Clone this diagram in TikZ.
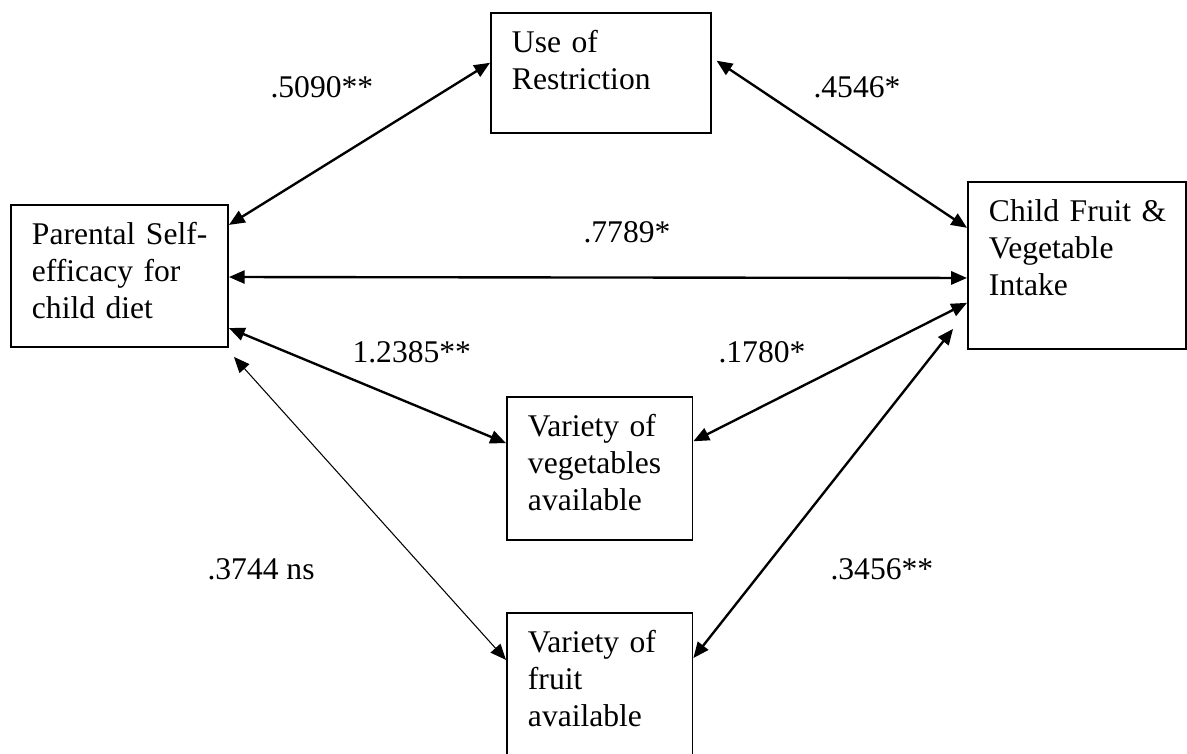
\documentclass[tikz,border=0pt]{standalone}
\usepackage{fontspec}
\setmainfont{Liberation Serif}
\usetikzlibrary{arrows.meta}
\tikzset{%
  v/.style = {rectangle,draw,line width=0.7pt,anchor=north west,
        align=left,inner xsep=8pt,inner ysep=0pt,text height=15pt,
        font=\fontsize{12}{14}\selectfont},
  corr/.style = {{Triangle[length=6pt,width=5pt]}-{Triangle[length=6pt,width=5pt]},
        line width=0.9pt},
  weakcorr/.style = {corr,line width=0.4pt},
  lab/.style = {anchor=base west,inner sep=0pt,
        font=\fontsize{12}{14}\selectfont}
}
\begin{document}
\begin{tikzpicture}[x=0.38pt,y=-0.38pt]
\useasboundingbox (0,0) rectangle (1187,754);
% boxes
\node[v,text width=66.5pt,text depth=39pt] (parent) at (10,204)
    {\mbox{Parental Self-}\\\mbox{efficacy for}\\\mbox{child diet}};
\node[v,text width=67.5pt,text depth=30.5pt] (restr) at (490,12)
    {\mbox{Use of}\\Restriction};
\node[v,text width=67pt,text depth=48.5pt] (child) at (967,181)
    {\mbox{Child Fruit \&}\\Vegetable\\Intake};
\node[v,text width=54.5pt,text depth=39.5pt] (veg) at (506,396)
    {\mbox{Variety of}\\vegetables\\available};
\node[v,text width=54.5pt,text depth=55pt] (fruit) at (506,612)
    {\mbox{Variety of}\\fruit\\available};
% connectors
\draw[corr] ([yshift=19.4pt]parent.east) -- ([yshift=3.8pt]restr.west);
\draw[corr] ([xshift=1.9pt,yshift=4.6pt]restr.east) -- ([yshift=14.3pt]child.west);
\draw[corr] ([yshift=-0.4pt]parent.east) -- ([yshift=-4.75pt]child.west);
\draw[corr] ([yshift=-19.8pt]parent.east) -- ([yshift=9.7pt]veg.west);
\draw[corr] ([yshift=10.4pt]veg.east) -- ([yshift=-14.2pt]child.west);
\draw[corr] ([yshift=-17.5pt]fruit.north east) -- ([xshift=-5.3pt,yshift=8pt]child.south west);
\draw[weakcorr] ([xshift=1.9pt,yshift=-3.4pt]parent.south east) -- ([yshift=-18.2pt]fruit.north west);
% labels
\node[lab] (l1) at (270,98) {.5090**};
\node[lab] (l2) at (813,98) {.4546*};
\node[lab] (l3) at (583,243) {.7789*};
\node[lab] (l4) at (352,363) {1.2385**};
\node[lab] (l5) at (718,363) {.1780*};
\node[lab] (l6) at (207,579) {.3744 ns};
\node[lab] (l7) at (830,579) {.3456**};
\end{tikzpicture}
\end{document}
